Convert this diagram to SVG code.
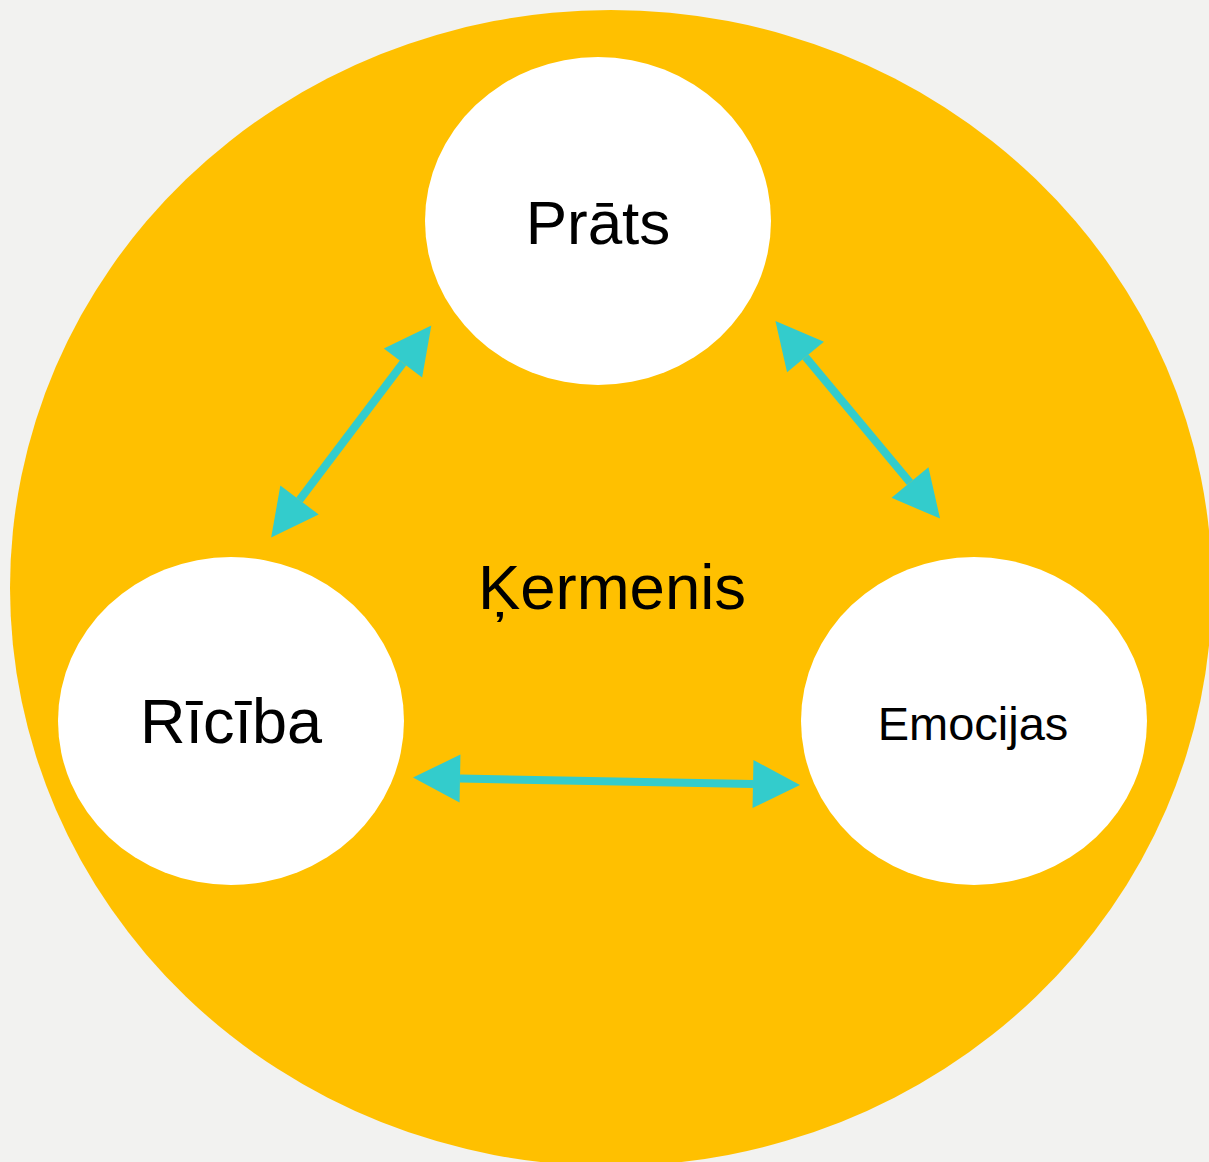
<svg xmlns="http://www.w3.org/2000/svg" width="1209" height="1162" viewBox="0 0 1209 1162">
<style>
.node{fill:#ffffff;}
.lbl{font-family:"Liberation Sans",Arial,sans-serif;fill:#000000;text-anchor:middle;}
.conn{stroke:#33CCCC;stroke-width:8;fill:none;}
</style>
<defs>
<marker id="ah" markerUnits="userSpaceOnUse" markerWidth="50" markerHeight="50" viewBox="0 -25 50 50" refX="0" refY="0" orient="auto-start-reverse" overflow="visible">
<path d="M0,-24 L47,0 L0,24 Z" fill="#33CCCC"/>
</marker>
</defs>
<rect width="1209" height="1162" fill="#F2F2F0"/>
<g id="body">
<ellipse cx="611" cy="588" rx="601" ry="578" fill="#FFC000"/>
<text class="lbl" x="612" y="609" font-size="63.5">Ķermenis</text>
</g>
<g id="connectors">
<path class="conn" d="M403,363 L299.5,500" marker-start="url(#ah)" marker-end="url(#ah)"/>
<path class="conn" d="M805.5,357 L910,482.5" marker-start="url(#ah)" marker-end="url(#ah)"/>
<path class="conn" d="M460,778.5 L753,784" marker-start="url(#ah)" marker-end="url(#ah)"/>
</g>
<g id="prats">
<ellipse class="node" cx="598" cy="221" rx="173" ry="164"/>
<text class="lbl" x="598" y="244" font-size="62">Prāts</text>
</g>
<g id="riciba">
<ellipse class="node" cx="231" cy="721" rx="173" ry="164"/>
<text class="lbl" x="231" y="743" font-size="63">Rīcība</text>
</g>
<g id="emocijas">
<ellipse class="node" cx="974" cy="721" rx="173" ry="164"/>
<text class="lbl" x="973" y="740" font-size="47">Emocijas</text>
</g>
</svg>
